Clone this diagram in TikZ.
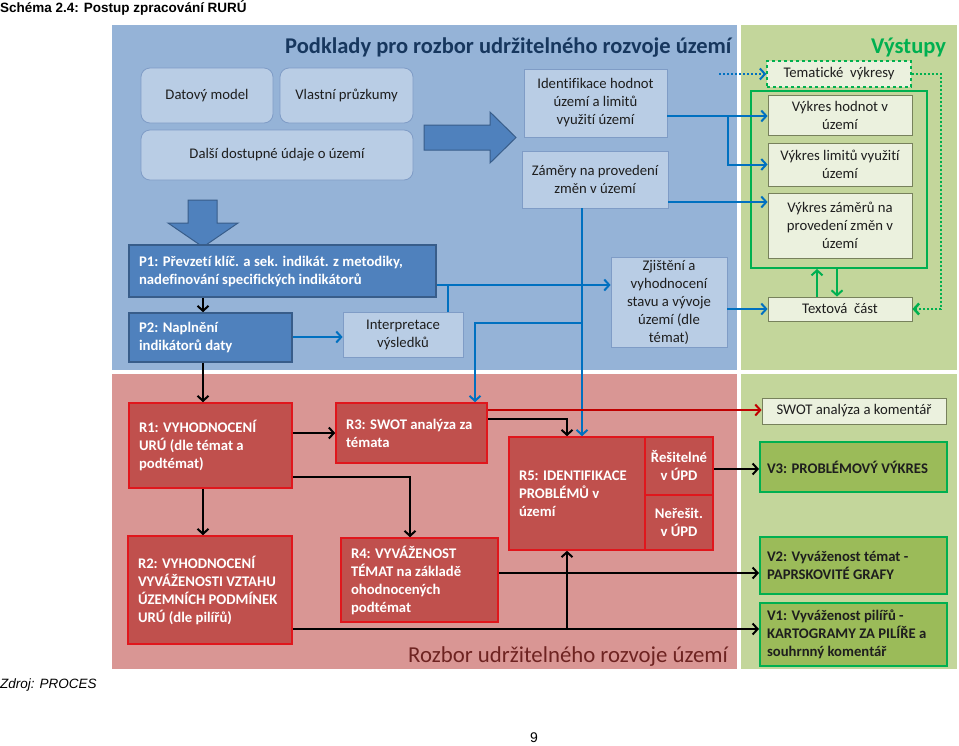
\documentclass[tikz,border=0pt]{standalone}
\usepackage{fontspec}
\setmainfont{Carlito}[Ligatures=CommonOff]
\newfontfamily\arialf{Liberation Sans}
\usetikzlibrary{arrows.meta}
\definecolor{panelB}{HTML}{95B3D7}
\definecolor{panelR}{HTML}{D99694}
\definecolor{panelG}{HTML}{C3D69B}
\definecolor{lfill}{HTML}{B9CDE5}
\definecolor{lbord}{HTML}{7F9CC6}
\definecolor{pfill}{HTML}{4F81BD}
\definecolor{pbord}{HTML}{385D8A}
\definecolor{innerb}{HTML}{1F497D}
\definecolor{rfill}{HTML}{C0504D}
\definecolor{rbord}{HTML}{E0161C}
\definecolor{gfill}{HTML}{9BBB59}
\definecolor{gbord}{HTML}{00B050}
\definecolor{ofill}{HTML}{EBF1DE}
\definecolor{obord}{HTML}{77815C}
\definecolor{arrB}{HTML}{0070C0}
\definecolor{titleB}{HTML}{17375E}
\definecolor{titleR}{HTML}{6E2321}
\definecolor{txt}{HTML}{1E1E1E}
\definecolor{redl}{HTML}{C00000}
\tikzset{
  corners/.code args={#1/#2/#3/#4}{%
    \pgfmathsetmacro\bxcx{(#1+#3)/2}%
    \pgfmathsetmacro\bxcy{(#2+#4)/2}%
    \pgfmathsetmacro\bxw{#3-#1}%
    \pgfmathsetmacro\bxh{#4-#2}%
    \edef\bxtmp{\noexpand\pgfkeysalso{/tikz/at={(\bxcx,\bxcy)},/tikz/minimum width=\bxw pt,/tikz/minimum height=\bxh pt}}\bxtmp},
  panel/.style={inner sep=0pt, draw=none},
  fnt/.style={font=\fontsize{14.7}{18}\selectfont},
  bfnt/.style={font=\bfseries\fontsize{14.7}{18}\selectfont},
  lbox/.style={draw=lbord, fill=lfill, line width=0.8pt, align=center, inner sep=0pt, fnt, text=txt},
  rlbox/.style={lbox, rounded corners=9pt},
  pbox/.style={draw=pbord, fill=pfill, line width=1.6pt, inner sep=0pt, text=white, bfnt, align=flush left, text width={\bxw pt-20pt}},
  rbox/.style={draw=rbord, fill=rfill, line width=1.6pt, inner sep=0pt, text=white, bfnt, align=flush left, text width={\bxw pt-20pt}},
  rcbox/.style={draw=rbord, fill=rfill, line width=1.6pt, inner sep=0pt, text=white, bfnt, align=center},
  obox/.style={draw=obord, fill=ofill, line width=0.8pt, inner sep=0pt, align=center, fnt, text=txt},
  gbox/.style={draw=gbord, fill=gfill, line width=2pt, inner sep=0pt, align=flush left, text width={\bxw pt-14pt}, bfnt, text=txt},
  tip/.style={-{Straight Barb[length=5pt,width=11pt]}},
  barrow/.style={draw=arrB, line width=2pt, tip},
  bline/.style={draw=arrB, line width=2pt},
  karrow/.style={draw=black, line width=2pt, tip},
  rarrow/.style={draw=redl, line width=2pt, tip},
  garrow/.style={draw=gbord, line width=2pt, tip},
  blockarr/.style={fill=pfill, draw=pbord, line width=1pt},
  bigtitle/.style={anchor=base west, inner sep=0pt, font=\bfseries\fontsize{22.5}{26}\selectfont},
}
\begin{document}
\begin{tikzpicture}[x=1pt,y=-1pt]
\path[use as bounding box, fill=white] (0,0) rectangle (959,745);
% panels
\node[panel, fill=panelB, corners=112/25/737/370] (pb) {};
\node[panel, fill=panelG, corners=741/25/957/370] (pg1) {};
\node[panel, fill=panelR, corners=112/374/737/669] (pr) {};
\node[panel, fill=panelG, corners=741/374/957/669] (pg2) {};
% titles
\node[bigtitle, text=titleB] (t1) at (285,53) {Podklady pro rozbor udržitelného rozvoje území};
\node[bigtitle, text=gbord] (t2) at (871,53) {Výstupy};
\node[bigtitle, text=titleR, font=\mdseries\fontsize{22.8}{26}\selectfont] (t3) at (408,662) {Rozbor udržitelného rozvoje území};
% inner rectangle
\node[draw=innerb, line width=2pt, panel, corners=129/60/718/223] (inner) {};
% light boxes
\node[rlbox, corners=141/68/273/123] (dm) {Datový model};
\node[rlbox, corners=280/68/413/123] (vp) {Vlastní průzkumy};
\node[rlbox, corners=141/130/413/180] (dd) {Další dostupné údaje o území};
\node[lbox, corners=524/69/667/137] (ih) {Identifikace hodnot\\území a limitů\\využití území};
\node[lbox, corners=522/151/668/208] (zm) {Záměry na provedení\\změn v území};
% block arrows
\path[blockarr] (424,125) -- (490,125) -- (490,112) -- (516,137.5) -- (490,163) -- (490,150) -- (424,150) -- cycle;
\path[blockarr] (188,200) -- (217,200) -- (217,223) -- (238,223) -- (203,247) -- (168,223) -- (188,223) -- cycle;
% P boxes
\node[pbox, corners=129/245/436/297] (p1) {P1: Převzetí klíč. a sek. indikát. z metodiky,\\nadefinování specifických indikátorů};
\node[pbox, corners=129/313/292/362] (p2) {P2: Naplnění\\indikátorů daty};
\node[lbox, corners=343/312/463/357] (ip) {Interpretace\\výsledků};
\node[lbox, corners=611/257/727/347] (zj) {Zjištění a\\vyhodnocení\\stavu a vývoje\\území (dle\\témat)};
% outputs top
\node[obox, draw=gbord, dashed, line width=1.5pt, corners=767/61/911/87] (tv) {Tematické\ \ výkresy};
\node[panel, draw=gbord, line width=2pt, corners=751/91/927/268] (grp) {};
\node[obox, corners=768/95/912/135] (vh) {Výkres hodnot v\\území};
\node[obox, corners=768/143/912/186] (vl) {Výkres limitů využití\\území};
\node[obox, corners=768/193/912/258] (vz) {Výkres záměrů na\\provedení změn v\\území};
\node[obox, corners=768/297/912/321] (tc) {Textová\ \ část};
% red boxes
\node[rbox, corners=129/403/292/488] (r1) {R1: VYHODNOCENÍ\\URÚ (dle témat a\\podtémat)};
\node[rbox, corners=128/536/292/644] (r2) {R2: VYHODNOCENÍ\\VYVÁŽENOSTI VZTAHU\\ÚZEMNÍCH PODMÍNEK\\URÚ (dle pilířů)};
\node[rbox, corners=336/403/487/463] (r3) {R3: SWOT analýza za\\témata};
\node[rbox, corners=341/538/498/622] (r4) {R4: VYVÁŽENOST\\TÉMAT na základě\\ohodnocených\\podtémat};
\node[rbox, corners=509/437/645/550] (r5) {R5: IDENTIFIKACE\\PROBLÉMŮ v\\území};
\node[rcbox, corners=645/437/713/495] (r5a) {Řešitelné\\v ÚPD};
\node[rcbox, corners=645/495/713/550] (r5b) {Neřešit.\\v ÚPD};
% outputs bottom
\node[obox, corners=762/398/946/424] (sw) {SWOT analýza a komentář};
\node[gbox, corners=760/442/947/492] (v3) {V3: PROBLÉMOVÝ VÝKRES};
\node[gbox, corners=760/537/947/594] (v2) {V2: Vyváženost témat -\\PAPRSKOVITÉ GRAFY};
\node[gbox, corners=760/603/947/666] (v1) {V1: Vyváženost pilířů -\\KARTOGRAMY ZA PILÍŘE a\\souhrnný komentář};
% blue connectors
\coordinate (br1) at (728,116);
\draw[barrow] (ih.east |- 0,116) -- (vh.west |- 0,116);
\draw[barrow] (br1) |- (vl.west);
\draw[barrow] (zm.east |- 0,202) -- (vz.west |- 0,202);
\draw[barrow] (zj.east |- 0,309) -- (tc.west);
\draw[barrow, dotted] (inner.east |- 0,74) -- (tv.west);
\draw[barrow] (p1.east |- 0,285) -- (zj.west |- 0,285);
\draw[bline] (ip.north -| 448,0) -- (448,285);
\draw[barrow] (p2.east |- 0,337) -- (ip.west |- 0,337);
\draw[barrow] (zm.south -| 582,0) -- (r5.north -| 582,0);
\draw[barrow] (582,323) -- (475,323) -- (r3.north -| 475,0);
% black connectors
\draw[karrow] (p1.south -| 203,0) -- (p2.north -| 203,0);
\draw[karrow] (p2.south -| 203,0) -- (r1.north -| 203,0);
\draw[karrow] (r1.south -| 203,0) -- (r2.north -| 203,0);
\draw[karrow] (r1.east |- 0,433) -- (r3.west |- 0,433);
\draw[karrow] (r1.east |- 0,477) -| (r4.north -| 410,0);
\draw[karrow] (r3.east |- 0,419) -| (r5.north -| 567,0);
\draw[karrow] (r5a.east |- 0,469) -- (v3.west |- 0,469);
\draw[karrow] (r4.east |- 0,573) -- (v2.west |- 0,573);
\draw[karrow] (r2.east |- 0,629) -- (v1.west |- 0,629);
\draw[karrow] (567,629) -- (r5.south -| 567,0);
% red connector
\draw[rarrow] (r3.east |- 0,410) -- (sw.west |- 0,410);
% green connectors
\draw[garrow] (tc.north -| 817,0) -- (grp.south -| 817,0);
\draw[garrow] (grp.south -| 837,0) -- (tc.north -| 837,0);
\draw[garrow, dotted, line width=2.5pt] (tv.east) -- (941,74) -- (941,309) -- (tc.east);
% page texts
\node[anchor=base west, inner sep=0pt, font=\arialf\bfseries\fontsize{13.5}{15}\selectfont] (hdr) at (0,12) {Schéma 2.4: Postup zpracování RURÚ};
\node[anchor=base west, inner sep=0pt, font=\arialf\itshape\fontsize{13.5}{15}\selectfont] (src) at (0,688) {Zdroj: PROCES};
\node[anchor=base west, inner sep=0pt, font=\arialf\fontsize{14}{15}\selectfont] (pg) at (530,742) {9};
\end{tikzpicture}
\end{document}
